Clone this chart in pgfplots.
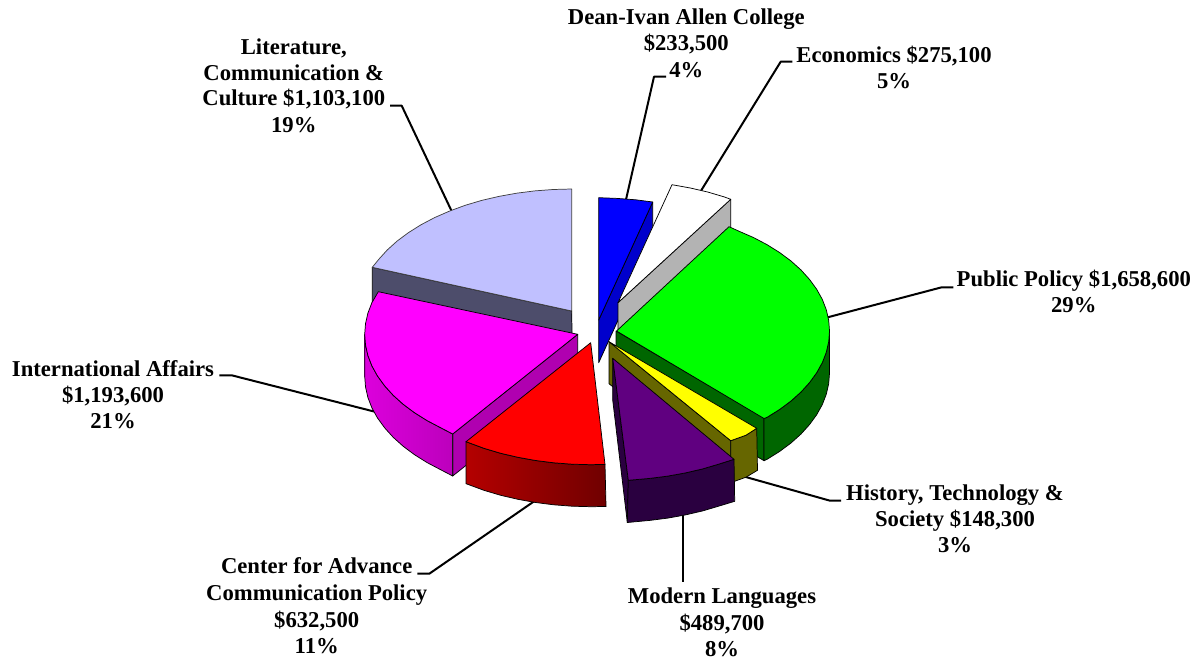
\documentclass[border=0pt]{standalone}
\usepackage{pgfplots}
\pgfplotsset{compat=1.18}
\usepackage{fontspec}
\setmainfont{Liberation Serif}
\definecolor{lav}{HTML}{C0C0FF}
\definecolor{lavside}{HTML}{4D4D6B}
\definecolor{bluetop}{HTML}{0000FF}
\definecolor{blueside}{HTML}{0000CC}
\definecolor{greytop}{HTML}{B3B3B3}
\definecolor{greentop}{HTML}{00FF00}
\definecolor{greenside}{HTML}{006600}
\definecolor{yellowtop}{HTML}{FFFF00}
\definecolor{olive2}{HTML}{666600}
\definecolor{magtop}{HTML}{FF00FF}
\definecolor{magcut}{HTML}{B000B0}
\definecolor{magl}{HTML}{DC00DC}
\definecolor{magr}{HTML}{BC00BC}
\definecolor{redtop}{HTML}{FF0000}
\definecolor{redl}{HTML}{B40000}
\definecolor{redr}{HTML}{700000}
\definecolor{purtop}{HTML}{600080}
\definecolor{purfront}{HTML}{2A0040}
\begin{document}
\begin{tikzpicture}
\path[use as bounding box] (0,0) rectangle (900.75pt,494.25pt);
\begin{axis}[
  at={(0,0)}, anchor=south west,
  scale only axis, width=900.75pt, height=494.25pt,
  xmin=0, xmax=1201, ymin=0, ymax=659, y dir=reverse,
  hide axis, clip=false, no markers,
  every axis plot/.append style={line join=round, line width=0.55pt, draw=black},
]
% leader lines
\addplot[line width=1.5pt] coordinates {(390,105.7)(401.7,105.7)(453,214)};
\addplot[line width=1.5pt] coordinates {(666,76.7)(654,76.7)(625,204)};
\addplot[line width=1.5pt] coordinates {(792.3,61.7)(780.7,61.7)(699,194)};
\addplot[line width=1.5pt] coordinates {(953.3,287.3)(941.7,287.3)(825,318)};
\addplot[line width=1.5pt] coordinates {(219.3,375.3)(231.7,375.3)(376,412)};
\addplot[line width=1.5pt] coordinates {(417.3,573.7)(429.3,573.7)(536,500)};
\addplot[line width=1.5pt] coordinates {(841,500.7)(830,500.7)(744,476.5)};
\addplot[line width=1.5pt] coordinates {(682.7,512)(682.7,581.7)};
% Literature
\addplot[fill=lavside] coordinates {(372.3,267.3)(571.7,311)(572.3,353)(372.3,309.3)} --cycle;
\addplot[fill=lav,draw=black!75] coordinates {(571.7,311)(372.3,267.3)(378.7,259.4)(387.2,250)(397.2,241)(408.5,232.6)(421.1,224.7)(434.8,217.5)(449.5,211.1)(465.2,205.3)(481.7,200.4)(498.9,196.4)(516.6,193.2)(534.7,190.9)(553.1,189.5)(571.7,189)} --cycle;
% Dean
\addplot[fill=blueside] coordinates {(652.7,202)(652.7,244)(598.7,362.7)(598.7,320)} --cycle;
\addplot[fill=bluetop] coordinates {(598.7,320)(598.7,197.7)(617,198.4)(635.7,199.8)(652.7,202)} --cycle;
% Economics
\addplot[fill=greytop] coordinates {(618,302.7)(730.7,199.3)(730.7,241)(618,345)} --cycle;
\addplot[fill=white] coordinates {(618,302.7)(672,184.7)(690.8,188.1)(708,192.1)(724.5,197)(730.7,199.3)} --cycle;
% Public Policy
\addplot[fill=greenside] coordinates {(616,331)(764,418)(764,460.7)(616,373)} --cycle;
\addplot[fill=greenside] coordinates {(829.5,331)(828.7,341.6)(826.3,352.2)(822.3,362.6)(816.7,372.7)(809.5,382.6)(801,392)(791,401)(779.7,409.4)(767.1,417.3)(764,418.5)(764,460.7)(767.1,459.3)(779.7,451.4)(791,443)(801,434)(809.5,424.6)(816.7,414.7)(822.3,404.6)(826.3,394.2)(828.7,383.6)(829.5,373)} --cycle;
\addplot[fill=greentop] coordinates {(616.5,331)(729,226.7)(738.7,231.1)(753.4,237.5)(767.1,244.7)(779.7,252.6)(791,261)(801,270)(809.5,279.4)(816.7,289.3)(822.3,299.4)(826.3,309.8)(828.7,320.4)(829.5,331)(828.7,341.6)(826.3,352.2)(822.3,362.6)(816.7,372.7)(809.5,382.6)(801,392)(791,401)(779.7,409.4)(767.1,417.3)(764,418.5)} --cycle;
% History
\addplot[fill=olive2] coordinates {(609,341.7)(730.7,440.7)(730.7,482.7)(609,383.7)} --cycle;
\addplot[fill=olive2] coordinates {(730.7,440.7)(746,435.2)(756.7,428.3)(757.5,470.3)(746,477.2)(730.7,482.7)} --cycle;
\addplot[fill=yellowtop] coordinates {(609,341.7)(756.7,428.3)(746,435.2)(730.7,440.7)} --cycle;
% International
\addplot[fill=magcut] coordinates {(577.7,334.3)(452.7,434)(452.7,476)(577.7,376.3)} --cycle;
\addplot[left color=magl,right color=magr] coordinates {(364.7,334.3)(365.5,344.9)(367.9,355.5)(371.9,365.9)(377.5,376)(384.7,385.9)(393.2,395.3)(403.2,404.3)(414.5,412.7)(427.1,420.6)(440.8,427.8)(452.7,434)(452.7,476)(440.8,469.8)(427.1,462.6)(414.5,454.7)(403.2,446.3)(393.2,437.3)(384.7,427.9)(377.5,418)(371.9,407.9)(367.9,397.5)(365.5,386.9)(364.7,376.3)} --cycle;
\addplot[fill=magtop] coordinates {(577.7,334.3)(378.3,291.7)(371.9,302.7)(367.9,313.1)(365.5,323.7)(364.7,334.3)(365.5,344.9)(367.9,355.5)(371.9,365.9)(377.5,376)(384.7,385.9)(393.2,395.3)(403.2,404.3)(414.5,412.7)(427.1,420.6)(440.8,427.8)(452.7,434)} --cycle;
% Center
\addplot[left color=redl,right color=redr] coordinates {(466,441.7)(468.5,442.6)(484.2,448.4)(500.7,453.3)(517.9,457.3)(535.6,460.5)(553.7,462.8)(572.1,464.2)(590.7,464.7)(605,464.4)(606,506.5)(590.7,506.7)(572.1,506.2)(553.7,504.8)(535.6,502.5)(517.9,499.3)(500.7,495.3)(484.2,490.4)(468.5,484.6)(466,483.7)} --cycle;
\addplot[fill=redtop] coordinates {(590.7,342.7)(466,441.7)(468.5,442.6)(484.2,448.4)(500.7,453.3)(517.9,457.3)(535.6,460.5)(553.7,462.8)(572.1,464.2)(590.7,464.7)(605,464.4)} --cycle;
% Modern Languages
\addplot[fill=purfront] coordinates {(612.7,358.3)(628.3,480.3)(627.3,522.5)(612.7,400)} --cycle;
\addplot[fill=purfront] coordinates {(628.3,480.3)(649.7,478.4)(667.8,476.1)(685.5,472.9)(702.7,468.9)(719.2,464)(734,459.3)(734.7,501.3)(719.2,506)(702.7,510.9)(685.5,514.9)(667.8,518.1)(649.7,520.4)(627.3,522.5)} --cycle;
\addplot[fill=purtop] coordinates {(612.7,358.3)(734,459.3)(719.2,464)(702.7,468.9)(685.5,472.9)(667.8,476.1)(649.7,478.4)(628.3,480.3)} --cycle;
% labels
\tikzset{lab/.style={anchor=base,inner sep=0pt,font=\fontsize{17}{20}\selectfont\bfseries}}
\node[lab] at (axis cs:293.8,54.3) {Literature,};
\node[lab] at (axis cs:293.8,80.3) {Communication \&};
\node[lab] at (axis cs:293.8,106) {Culture \$1,103,100};
\node[lab] at (axis cs:293.8,132.3) {19\%};
\node[lab] at (axis cs:686.3,25) {Dean-Ivan Allen College};
\node[lab] at (axis cs:686.3,51) {\$233,500};
\node[lab] at (axis cs:686.3,77.3) {4\%};
\node[lab] at (axis cs:894,62.3) {Economics \$275,100};
\node[lab] at (axis cs:894,88.3) {5\%};
\node[lab] at (axis cs:1073.8,286.7) {Public Policy \$1,658,600};
\node[lab] at (axis cs:1073.8,312.7) {29\%};
\node[lab] at (axis cs:113,376) {International Affairs};
\node[lab] at (axis cs:113,402) {\$1,193,600};
\node[lab] at (axis cs:113,428.7) {21\%};
\node[lab] at (axis cs:316.7,573.7) {Center for Advance};
\node[lab] at (axis cs:316.7,600) {Communication Policy};
\node[lab] at (axis cs:316.7,627.3) {\$632,500};
\node[lab] at (axis cs:316.7,653.3) {11\%};
\node[lab] at (axis cs:955,500.7) {History, Technology \&};
\node[lab] at (axis cs:955,526.7) {Society \$148,300};
\node[lab] at (axis cs:955,552.7) {3\%};
\node[lab] at (axis cs:722,603.3) {Modern Languages};
\node[lab] at (axis cs:722,630) {\$489,700};
\node[lab] at (axis cs:722,656) {8\%};
\end{axis}
\end{tikzpicture}
\end{document}
